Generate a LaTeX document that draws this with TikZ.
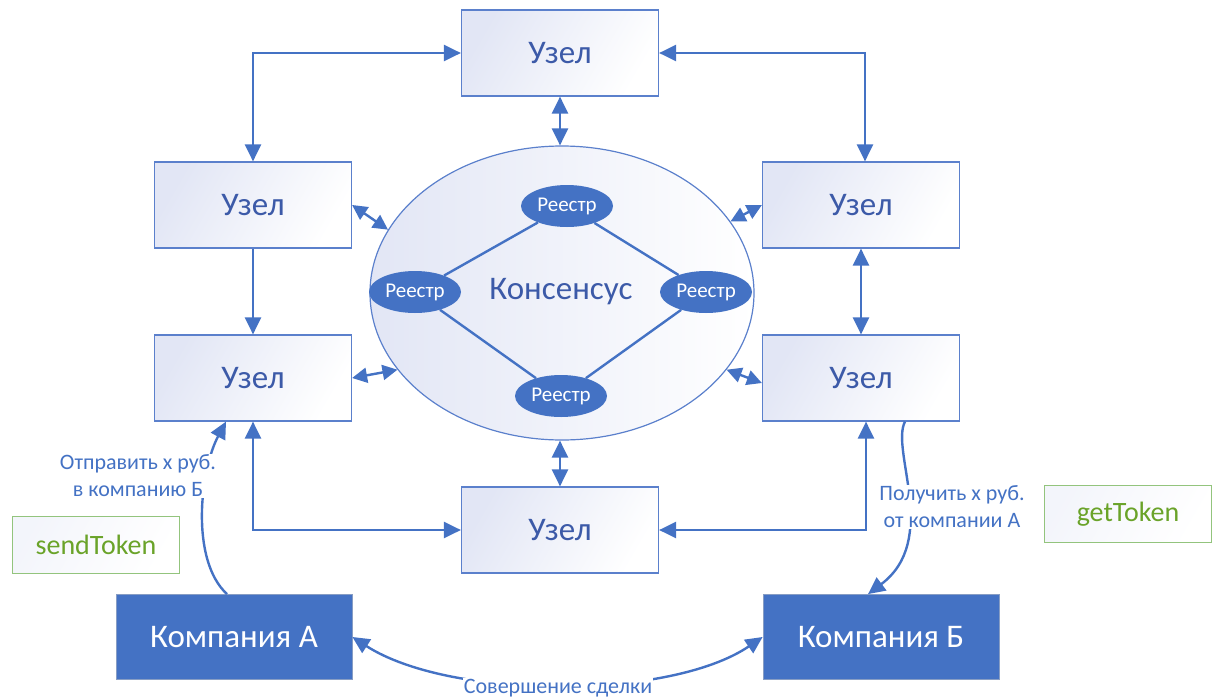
\documentclass[tikz,border=0pt]{standalone}
\usepackage{fontspec}
\setmainfont{Carlito}
\usetikzlibrary{arrows.meta,shapes.geometric}
\definecolor{bl}{HTML}{4472C4}
\definecolor{bdr}{HTML}{5B80CC}
\definecolor{txt}{HTML}{3C5AA8}
\definecolor{lav}{HTML}{E2E6F5}
\definecolor{gr}{HTML}{93C47D}
\definecolor{grt}{HTML}{6AA329}
\begin{document}
\begin{tikzpicture}[x=1pt,y=-1pt,
  uzel/.style={draw=bdr, line width=1.2pt, minimum width=197pt, minimum height=86pt,
    left color=lav, right color=white, shading angle=60, text=txt, font=\fontsize{33}{33}\selectfont},
  comp/.style={draw=bl!80!black!60, line width=0.8pt, fill=bl, minimum width=236pt, minimum height=85pt,
    text=white, font=\fontsize{33}{33}\selectfont},
  reg/.style={ellipse, fill=bl, text=white, minimum width=92pt, minimum height=42pt, inner sep=0pt,
    font=\fontsize{21}{21}\selectfont},
  tok/.style={draw=gr, line width=1.2pt, left color=lav!40!white, right color=white, shading angle=60,
    minimum width=167pt, minimum height=57pt, text=grt, font=\fontsize{28}{28}\selectfont},
  lbl/.style={fill=white, text=bl, inner sep=1pt, font=\fontsize{22}{27}\selectfont, align=center},
  con/.style={draw=bl, line width=2.4pt},
  arr1/.style={con, -{Triangle[length=17pt,width=16pt]}},
  arr2/.style={con, {Triangle[length=17pt,width=16pt]}-{Triangle[length=17pt,width=16pt]}},
  arr2s/.style={con, {Triangle[length=15pt,width=15pt]}-{Triangle[length=15pt,width=15pt]}}
]
\useasboundingbox (0,0) rectangle (1213,699);

% consensus ellipse
\node[ellipse, draw=bdr, line width=1.2pt, minimum width=384pt, minimum height=294pt,
  left color=lav, right color=white] (cons) at (562,293) {};
\node[text=txt, font=\fontsize{33}{33}\selectfont] (constxt) at (561,292) {Консенсус};

\node[reg] (rt) at (567,206) {Реестр};
\node[reg] (rl) at (415,292) {Реестр};
\node[reg] (rr) at (706,292) {Реестр};
\node[reg] (rb) at (561,396) {Реестр};
\draw[draw=bl, line width=2.4pt] (rt) -- (rl) -- (rb) -- (rr) -- (rt);

% nodes
\node[uzel] (ntop) at (560,53) {Узел};
\node[uzel] (nlu) at (253,205) {Узел};
\node[uzel] (nll) at (253,378) {Узел};
\node[uzel] (nru) at (861,205) {Узел};
\node[uzel] (nrl) at (861,378) {Узел};
\node[uzel] (nbot) at (560,530) {Узел};

\node[comp] (ca) at (234,637) {Компания А};
\node[comp] (cb) at (881,637) {Компания Б};

\node[tok] (send) at (96,545) {sendToken};
\node[tok] (get) at (1128,514) {getToken};

% connectors
\draw[arr2] (ntop.west) -| (nlu.north);
\draw[arr2] (ntop.east) -| ([xshift=4pt]nru.north);
\draw[arr2] (ntop.south) -- (ntop.south |- cons.north);
\draw[arr1] (nlu) -- (nll);
\draw[arr2] (nru) -- (nrl);
\draw[arr2s] (nlu.east) -- (cons.160);
\draw[arr2s] (nll.east) -- (cons.205);
\draw[arr2s] (nru.west) -- (cons.23);
\draw[arr2s] ([yshift=-5pt]nrl.west) -- (cons.335);
\draw[arr2] (nbot.north) -- (nbot.north |- cons.south);
\draw[arr2] (nll.south) |- (nbot.west);
\draw[arr2] (nbot.east) -| ([xshift=5pt]nrl.south);

\draw[arr1] ([xshift=-7pt]ca.north) .. controls (190,560) and (200,470) .. ([xshift=-27pt]nll.south);
\node[lbl] (lsend) at (138,476) {Отправить х руб.\\в компанию Б};

\draw[arr1] ([xshift=44pt]nrl.south) .. controls (890,450) and (940,540) .. ([xshift=-13pt]cb.north);
\node[lbl] (lget) at (952,507) {Получить х руб.\\от компании А};

\draw[arr2] (ca.east) .. controls (450,700) and (670,700) .. (cb.west);
\node[lbl] (ldeal) at (558,688) {Совершение сделки};
\end{tikzpicture}
\end{document}
